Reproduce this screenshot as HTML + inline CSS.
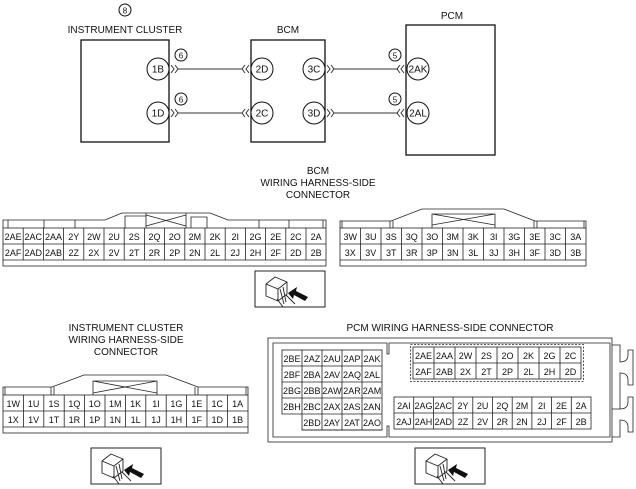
<!DOCTYPE html>
<html><head><style>
html,body{margin:0;padding:0;background:#fff;}
svg{display:block;font-family:"Liberation Sans",sans-serif;}
text{fill:#111;}
.c{font-size:9px;text-anchor:middle;}
.l{font-size:10px;text-anchor:middle;}
</style></head><body>
<svg width="636" height="489" viewBox="0 0 636 489" xmlns="http://www.w3.org/2000/svg">
<g stroke="#111" fill="none" stroke-width="1.3">
<rect x="81" y="40" width="88" height="102"/>
<rect x="251" y="40" width="74" height="102"/>
<rect x="406" y="25" width="89" height="130"/>
</g>
<g stroke="#111" fill="#fff" stroke-width="1">
<circle cx="158" cy="69" r="11"/><circle cx="262" cy="69" r="11"/><circle cx="314" cy="69" r="11"/><circle cx="418" cy="69" r="11"/>
<circle cx="158" cy="113" r="11"/><circle cx="262" cy="113" r="11"/><circle cx="314" cy="113" r="11"/><circle cx="418" cy="113" r="11"/>
<circle cx="125" cy="10" r="6" fill="none"/><circle cx="181" cy="55" r="6" fill="none"/><circle cx="181" cy="99" r="6" fill="none"/><circle cx="395" cy="55" r="6" fill="none"/><circle cx="395" cy="99" r="6" fill="none"/>
</g>
<g stroke="#333" stroke-width="1" fill="none">
<path d="M178 69H242M178 113H242M334 69H398M334 113H398"/>
<path d="M171 65l3 4l-3 4M175 65l3 4l-3 4M171 109l3 4l-3 4M175 109l3 4l-3 4"/>
<path d="M249 65l-3 4l3 4M245 65l-3 4l3 4M249 109l-3 4l3 4M245 109l-3 4l3 4"/>
<path d="M327 65l3 4l-3 4M331 65l3 4l-3 4M327 109l3 4l-3 4M331 109l3 4l-3 4"/>
<path d="M404 65l-3 4l3 4M400 65l-3 4l3 4M404 109l-3 4l3 4M400 109l-3 4l3 4"/>
</g>
<g class="l">
<text x="125" y="13.5" font-size="8" text-anchor="middle">8</text>
<text x="181" y="58.5" font-size="8" text-anchor="middle">6</text><text x="181" y="102.5" font-size="8" text-anchor="middle">6</text>
<text x="395" y="58.5" font-size="8" text-anchor="middle">5</text><text x="395" y="102.5" font-size="8" text-anchor="middle">5</text>
<text x="125" y="33" class="l">INSTRUMENT CLUSTER</text>
<text x="288" y="33" class="l">BCM</text>
<text x="452" y="19" class="l">PCM</text>
<text x="158" y="72.5" class="l">1B</text><text x="262" y="72.5" class="l">2D</text><text x="314" y="72.5" class="l">3C</text><text x="418" y="72.5" class="l">2AK</text>
<text x="158" y="116.5" class="l">1D</text><text x="262" y="116.5" class="l">2C</text><text x="314" y="116.5" class="l">3D</text><text x="418" y="116.5" class="l">2AL</text>
<text x="318" y="174" class="l">BCM</text>
<text x="318" y="186" class="l">WIRING HARNESS-SIDE</text>
<text x="318" y="198" class="l">CONNECTOR</text>
<text x="126" y="331" class="l">INSTRUMENT CLUSTER</text>
<text x="126" y="343" class="l">WIRING HARNESS-SIDE</text>
<text x="126" y="355" class="l">CONNECTOR</text>
<text x="450" y="331" class="l">PCM WIRING HARNESS-SIDE CONNECTOR</text>
</g>

<!-- BCM connector 2 -->
<g stroke="#222" fill="none" stroke-width="0.8">
<rect x="3" y="228" width="323" height="38"/>
<path d="M3 244H326M3 260H326"/>
<path d="M23.2 228V260M43.4 228V260M63.6 228V260M83.8 228V260M104 228V260M124.2 228V260M144.4 228V260M164.6 228V260M184.8 228V260M205 228V260M225.2 228V260M245.4 228V260M265.6 228V260M285.8 228V260M306 228V260"/>
<path d="M3 228V220H105L122 213H210L228 220H326V228M8 220V228M44 220V228M75 220V228M259 220V228M289 220V228M323 220V228"/>
<path d="M125 228V216H146V228M146 213V228M186 213V228M146 215L186 226M146 226L186 215M191 228V217H207V228"/>
</g>
<g class="c">
<text x="13.1" y="240">2AE</text><text x="33.3" y="240">2AC</text><text x="53.5" y="240">2AA</text><text x="73.7" y="240">2Y</text><text x="93.9" y="240">2W</text><text x="114.1" y="240">2U</text><text x="134.3" y="240">2S</text><text x="154.5" y="240">2Q</text><text x="174.7" y="240">2O</text><text x="194.9" y="240">2M</text><text x="215.1" y="240">2K</text><text x="235.3" y="240">2I</text><text x="255.5" y="240">2G</text><text x="275.7" y="240">2E</text><text x="295.9" y="240">2C</text><text x="316.1" y="240">2A</text>
<text x="13.1" y="256">2AF</text><text x="33.3" y="256">2AD</text><text x="53.5" y="256">2AB</text><text x="73.7" y="256">2Z</text><text x="93.9" y="256">2X</text><text x="114.1" y="256">2V</text><text x="134.3" y="256">2T</text><text x="154.5" y="256">2R</text><text x="174.7" y="256">2P</text><text x="194.9" y="256">2N</text><text x="215.1" y="256">2L</text><text x="235.3" y="256">2J</text><text x="255.5" y="256">2H</text><text x="275.7" y="256">2F</text><text x="295.9" y="256">2D</text><text x="316.1" y="256">2B</text>
</g>

<!-- BCM connector 3 -->
<g stroke="#222" fill="none" stroke-width="0.8">
<rect x="340" y="228" width="246" height="38"/>
<path d="M340 244H586M340 260H586"/>
<path d="M360.5 228V260M381 228V260M401.5 228V260M422 228V260M442.5 228V260M463 228V260M483.5 228V260M504 228V260M524.5 228V260M545 228V260M565.5 228V260"/>
<path d="M340 228V221H391L422 209H504L535 221H586V228M342 221V228M390 221V228M393 221V228M534 221V228M537 221V228M584 221V228"/>
<path d="M432 228V214H495V228M432 214L495 225M432 225L495 214"/>
</g>
<g class="c">
<text x="350.25" y="240">3W</text><text x="370.75" y="240">3U</text><text x="391.25" y="240">3S</text><text x="411.75" y="240">3Q</text><text x="432.25" y="240">3O</text><text x="452.75" y="240">3M</text><text x="473.25" y="240">3K</text><text x="493.75" y="240">3I</text><text x="514.25" y="240">3G</text><text x="534.75" y="240">3E</text><text x="555.25" y="240">3C</text><text x="575.75" y="240">3A</text>
<text x="350.25" y="256">3X</text><text x="370.75" y="256">3V</text><text x="391.25" y="256">3T</text><text x="411.75" y="256">3R</text><text x="432.25" y="256">3P</text><text x="452.75" y="256">3N</text><text x="473.25" y="256">3L</text><text x="493.75" y="256">3J</text><text x="514.25" y="256">3H</text><text x="534.75" y="256">3F</text><text x="555.25" y="256">3D</text><text x="575.75" y="256">3B</text>
</g>

<!-- IC connector -->
<g stroke="#222" fill="none" stroke-width="0.8">
<rect x="3" y="395" width="245" height="38"/>
<path d="M3 411H248M3 427H248"/>
<path d="M23.4 395V427M43.8 395V427M64.2 395V427M84.6 395V427M105 395V427M125.4 395V427M145.8 395V427M166.2 395V427M186.6 395V427M207 395V427M227.4 395V427"/>
<path d="M3 395V387H52L84 375H166L198 387H248V395M5 387V395M51 387V395M54 387V395M195 387V395M198 387V395M246 387V395"/>
<path d="M93 395V381H157V395M93 381L157 393M93 393L157 381"/>
</g>
<g class="c">
<text x="13.2" y="407">1W</text><text x="33.6" y="407">1U</text><text x="54" y="407">1S</text><text x="74.4" y="407">1Q</text><text x="94.8" y="407">1O</text><text x="115.2" y="407">1M</text><text x="135.6" y="407">1K</text><text x="156" y="407">1I</text><text x="176.4" y="407">1G</text><text x="196.8" y="407">1E</text><text x="217.2" y="407">1C</text><text x="237.6" y="407">1A</text>
<text x="13.2" y="423">1X</text><text x="33.6" y="423">1V</text><text x="54" y="423">1T</text><text x="74.4" y="423">1R</text><text x="94.8" y="423">1P</text><text x="115.2" y="423">1N</text><text x="135.6" y="423">1L</text><text x="156" y="423">1J</text><text x="176.4" y="423">1H</text><text x="196.8" y="423">1F</text><text x="217.2" y="423">1D</text><text x="237.6" y="423">1B</text>
</g>

<!-- PCM connector -->
<g stroke="#222" fill="none" stroke-width="0.8">
<rect x="268" y="338" width="344" height="104"/>
<path d="M273 343H387V354H389V343H610V437H389V426H387V437H273Z"/>
<path d="M612 345H620V362Q628 362 628 355V350H633V385H628V380Q628 373 620 373V409H612M620 373V409Q628 409 628 402V397H633V432H628V427Q628 420 620 420V437H612" />
<rect x="282" y="350" width="100" height="80"/>
<path d="M282 366H382M282 382H382M282 398H382M282 414H382M302 350V414M322 350V430M342 350V430M362 350V430"/>
<rect x="413" y="347" width="168" height="32"/>
<rect x="410.5" y="344.5" width="173" height="37" stroke-dasharray="2 1.5"/>
<path d="M413 363H581M434 347V379M455 347V379M476 347V379M497 347V379M518 347V379M539 347V379M560 347V379"/>
<rect x="394" y="397" width="197" height="32"/>
<path d="M394 413H591M413.7 397V429M433.4 397V429M453.1 397V429M472.8 397V429M492.5 397V429M512.2 397V429M531.9 397V429M551.6 397V429M571.3 397V429"/>
</g>
<g stroke="#fff" stroke-width="2" fill="none"><path d="M282.5 414.5V429.5H301.5"/></g>
<g stroke="#222" fill="none" stroke-width="0.8"><path d="M302 414V430H382"/></g>
<g class="c" font-size="8.5">
<text x="292" y="362">2BE</text><text x="312" y="362">2AZ</text><text x="332" y="362">2AU</text><text x="352" y="362">2AP</text><text x="372" y="362">2AK</text>
<text x="292" y="378">2BF</text><text x="312" y="378">2BA</text><text x="332" y="378">2AV</text><text x="352" y="378">2AQ</text><text x="372" y="378">2AL</text>
<text x="292" y="394">2BG</text><text x="312" y="394">2BB</text><text x="332" y="394">2AW</text><text x="352" y="394">2AR</text><text x="372" y="394">2AM</text>
<text x="292" y="410">2BH</text><text x="312" y="410">2BC</text><text x="332" y="410">2AX</text><text x="352" y="410">2AS</text><text x="372" y="410">2AN</text>
<text x="312" y="426">2BD</text><text x="332" y="426">2AY</text><text x="352" y="426">2AT</text><text x="372" y="426">2AO</text>
<text x="423.5" y="359">2AE</text><text x="444.5" y="359">2AA</text><text x="465.5" y="359">2W</text><text x="486.5" y="359">2S</text><text x="507.5" y="359">2O</text><text x="528.5" y="359">2K</text><text x="549.5" y="359">2G</text><text x="570.5" y="359">2C</text>
<text x="423.5" y="375">2AF</text><text x="444.5" y="375">2AB</text><text x="465.5" y="375">2X</text><text x="486.5" y="375">2T</text><text x="507.5" y="375">2P</text><text x="528.5" y="375">2L</text><text x="549.5" y="375">2H</text><text x="570.5" y="375">2D</text>
<text x="403.85" y="409">2AI</text><text x="423.55" y="409">2AG</text><text x="443.25" y="409">2AC</text><text x="462.95" y="409">2Y</text><text x="482.65" y="409">2U</text><text x="502.35" y="409">2Q</text><text x="522.05" y="409">2M</text><text x="541.75" y="409">2I</text><text x="561.45" y="409">2E</text><text x="581.15" y="409">2A</text>
<text x="403.85" y="425">2AJ</text><text x="423.55" y="425">2AH</text><text x="443.25" y="425">2AD</text><text x="462.95" y="425">2Z</text><text x="482.65" y="425">2V</text><text x="502.35" y="425">2R</text><text x="522.05" y="425">2N</text><text x="541.75" y="425">2J</text><text x="561.45" y="425">2F</text><text x="581.15" y="425">2B</text>
</g>

<!-- icons -->
<defs>
<g id="ic">
<rect x="0" y="0" width="70" height="36" fill="#fff" stroke="#222" stroke-width="1"/>
<path d="M11 13l9-7l12 5v12l-9 7l-12-5z M11 13l12 5l9-7 M23 18v12 M25 18l4 15 M28 16l3 15 M22 28l6 8 M31 24l9 9" fill="none" stroke="#222" stroke-width="0.9"/>
<path d="M33 22l9-6l-1 4l12 6l-3 4l-11-6l-1 4z" fill="#111"/>
</g>
</defs>
<use href="#ic" x="255" y="271"/>
<use href="#ic" x="91" y="448"/>
<use href="#ic" x="415" y="448"/>
</svg>
</body></html>
